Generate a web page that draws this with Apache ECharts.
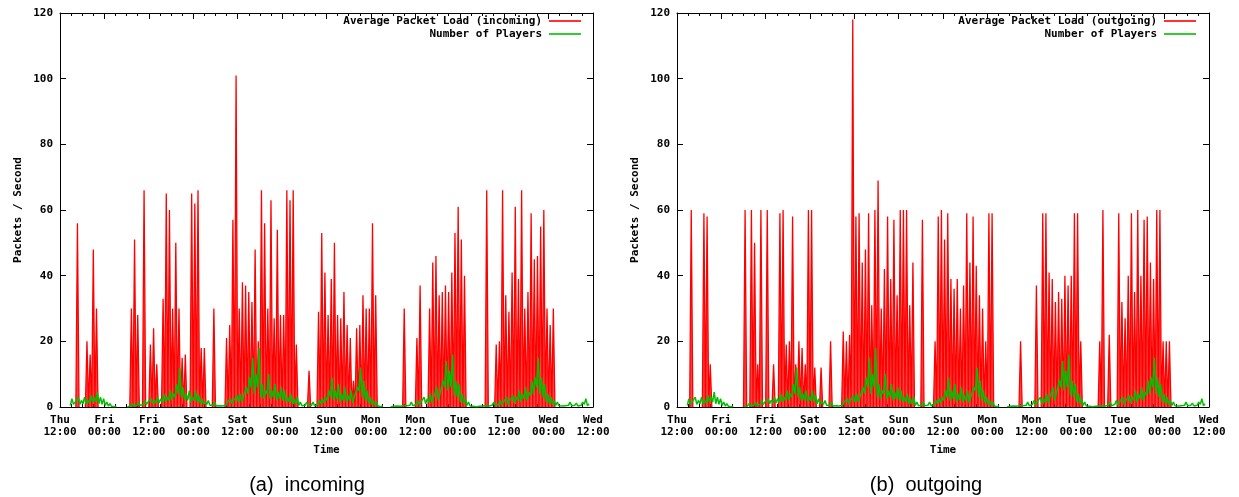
<!DOCTYPE html>
<html>
<head>
<meta charset="utf-8">
<script src="https://cdn.jsdelivr.net/npm/echarts@6/dist/echarts.min.js"></script>
<style>html,body{margin:0;padding:0;background:#fff;}#c{width:1239px;height:497px;}</style>
</head>
<body>
<div id="c"></div>
<script>
// x axis in hours since Thu 12:00 (6 days = 144 h)
const xTickLabels = ['Thu\n12:00','Fri\n00:00','Fri\n12:00','Sat\n00:00','Sat\n12:00','Sun\n00:00','Sun\n12:00','Mon\n00:00','Mon\n12:00','Tue\n00:00','Tue\n12:00','Wed\n00:00','Wed\n12:00'];
const yTicks = [0,20,40,60,80,100,120];
const sampleHours = 144 / 168; // one sample every ~51 minutes, 168 samples

// peak packet load per sample, incoming
const loadIncoming = [
  0,0,0,0,0,56,0,0,20,16,48,30,
  0,0,0,0,0,0,0,0,0,0,30,51,
  28,0,66,0,19,24,13,0,33,65,60,30,
  50,30,15,16,0,65,62,66,18,18,0,0,
  30,0,0,0,21,25,57,101,30,38,37,35,
  32,48,20,66,56,30,63,27,54,28,28,66,
  63,66,19,0,0,0,11,0,0,29,53,41,
  28,39,50,28,27,35,25,21,8,24,25,34,
  30,30,56,34,0,0,0,0,0,0,0,0,
  30,0,0,0,21,37,0,0,30,44,46,34,
  35,37,35,41,53,61,51,40,0,0,0,0,
  0,0,66,0,0,19,20,66,34,29,41,61,
  39,66,30,35,59,45,46,55,60,30,25,30,
  0,0,0,0,0,0,0,0,0,0,0,0
];
// peak packet load per sample, outgoing
const loadOutgoing = [
  0,0,0,0,60,0,0,0,59,58,13,0,
  0,0,0,0,0,0,0,0,0,60,0,60,
  50,13,60,0,60,0,13,0,59,60,19,20,
  58,13,20,18,13,60,60,12,0,12,0,0,
  20,0,0,0,23,20,22,118,58,59,44,48,
  59,31,60,69,30,42,58,39,57,34,60,60,
  60,31,44,0,0,57,0,0,0,20,58,60,
  51,59,39,36,39,30,37,59,44,58,43,34,
  30,20,59,59,0,0,0,0,0,0,0,0,
  20,0,0,0,0,37,0,59,59,41,39,32,
  35,33,40,37,40,59,59,20,0,0,0,0,
  0,20,60,0,22,0,0,59,32,27,40,59,
  35,60,40,57,58,44,39,60,60,20,20,20,
  0,0,0,0,0,0,0,0,0,0,0,0
];
// number of players per sample: upper and lower edge of the noisy band
const playersHigh = [
  null,null,null,2.5,1.5,3,2,3,2,3.5,3,4.5,
  3,2.5,1.5,1,0.5,0.3,null,null,null,0.5,1,0.5,
  1.5,1,2,1.5,2.5,2,3,2.5,4,3,5,4,
  7,12,6,4,5,3,5,3.5,2.5,1.5,2,1,
  1.5,0.8,1,0.8,1.5,2.5,2,3.5,4,3,6,9,
  15,10,18,7,5,10,5,7,4.5,6,5,3,
  4,2.5,3,1.5,1,1.5,1,1.5,1,2,2.5,3,
  5,9,5,7,4,6,3.5,5,3,6,12,8,
  5,3,2,1.5,0.8,0.4,null,null,0.3,0.5,0.8,0.5,
  1,1,1.5,1,2,1.5,3,2.5,4,3,6,4,
  8,14,11,16,8,7,4,2.5,1.5,0.8,0.5,0.3,
  0.5,0.8,1,0.8,1.5,1,2,1.5,3,2,3.5,3,
  5,4,6,4.5,8,9,15,9,7,4,3,2,
  1.5,1,0.8,1,1.5,1,1.2,0.8,1.5,2.5,1,null
];
const playersLow = [
  null,null,null,0.5,0.8,1,0.8,1,1,1.2,1.5,1.5,
  1,0.8,0.5,0.3,0.2,0.1,null,null,null,0.1,0.3,0.3,
  0.5,0.5,0.8,0.8,1,1,1.2,1.2,1.5,1.5,2,2,
  3,4,3,2,2,1.5,2,1.5,1,0.8,0.8,0.5,
  0.5,0.3,0.4,0.3,0.5,1,1,1.5,1.5,1.5,2.5,4,
  6,4,6,3,2.5,4,2.5,3,2,2.5,2,1.5,
  1.5,1,1,0.5,0.4,0.5,0.4,0.5,0.4,0.8,1,1.2,
  2,3,2,2.5,1.5,2,1.5,2,1.2,2.5,5,3,
  2,1.2,0.8,0.5,0.3,0.1,null,null,0.1,0.2,0.3,0.2,
  0.4,0.4,0.5,0.4,0.8,0.6,1,1,1.5,1.2,2.5,2,
  4,6,5,6,3.5,3,1.5,1,0.5,0.3,0.2,0.1,
  0.2,0.3,0.4,0.3,0.6,0.4,0.8,0.6,1.2,0.8,1.5,1.2,
  2,1.5,2.5,2,3.5,4,6,4,3,1.5,1,0.8,
  0.5,0.4,0.3,0.4,0.5,0.4,0.5,0.3,0.5,0.8,0.4,null
];
const seriesNames = ['Average Packet Load (incoming)','Average Packet Load (outgoing)','Number of Players'];
const captions = ['(a)  incoming','(b)  outgoing'];
const RED = '#ff0000', GREEN = '#00c000';

// each sample is drawn as a spike from 0 up to its peak and back
function spikes(arr){
  const out=[], w=sampleHours;
  arr.forEach((v,i)=>{
    const t=i*w;
    if(v>0){ out.push([t,0],[t+w*0.5,v],[t+w,0]); }
    else out.push([t+w*0.5,null]);
  });
  return out;
}
// noisy band: alternate between lower and upper edge
function band(lo,hi){
  const out=[], w=sampleHours;
  hi.forEach((v,i)=>{
    const t=i*w;
    if(v==null){ out.push([t+w*0.5,null]); return; }
    out.push([t+w*0.25,lo[i]],[t+w*0.75,v]);
  });
  return out;
}

const mono = {fontFamily:'DejaVu Sans Mono', fontWeight:'bold', fontSize:11, color:'#000'};
const monoFont = 'bold 11px "DejaVu Sans Mono"';
const grids = [
  {left:60, right:646, top:13, bottom:90},
  {left:677, right:30, top:13, bottom:90}
];
const legendRight = [581, 1196]; // right end of key samples
const xAxes=[], yAxes=[], series=[], graphics=[];
grids.forEach((g,i)=>{
  const tick = {show:true, inside:true, length:6, lineStyle:{color:'#000',width:1}};
  const minor = {show:true, splitNumber:4, length:3, lineStyle:{color:'#000',width:1}};
  xAxes.push({gridIndex:i, type:'value', min:0, max:144, interval:12, position:'bottom',
    axisLine:{show:true,onZero:false,lineStyle:{color:'#000',width:1}}, axisTick:tick, minorTick:minor,
    splitLine:{show:false},
    axisLabel:Object.assign({margin:7, lineHeight:12, showMinLabel:true, showMaxLabel:true,
      formatter:v=>xTickLabels[Math.round(v/12)]}, mono),
    name:'Time', nameLocation:'middle', nameGap:38, nameTextStyle:mono});
  xAxes.push({gridIndex:i, type:'value', min:0, max:144, interval:12, position:'top',
    axisLine:{show:true,onZero:false,lineStyle:{color:'#000',width:1}}, axisTick:tick, minorTick:minor,
    splitLine:{show:false}, axisLabel:{show:false}});
  yAxes.push({gridIndex:i, type:'value', min:yTicks[0], max:yTicks[yTicks.length-1], interval:20, position:'left',
    axisLine:{show:true,onZero:false,lineStyle:{color:'#000',width:1}}, axisTick:tick,
    splitLine:{show:false}, axisLabel:Object.assign({margin:7}, mono),
    name:'Packets / Second', nameLocation:'middle', nameGap:36, nameTextStyle:mono});
  yAxes.push({gridIndex:i, type:'value', min:yTicks[0], max:yTicks[yTicks.length-1], interval:20, position:'right',
    axisLine:{show:true,onZero:false,lineStyle:{color:'#000',width:1}}, axisTick:tick,
    splitLine:{show:false}, axisLabel:{show:false}});
  series.push({name:seriesNames[i], type:'line', xAxisIndex:i*2, yAxisIndex:i*2, color:RED,
    data:spikes(i===0?loadIncoming:loadOutgoing), symbol:'none', showSymbol:false, connectNulls:false,
    lineStyle:{color:RED, width:1.3}, itemStyle:{color:RED}, areaStyle:{color:RED, opacity:0.75, origin:'start'},
    z:2, silent:true});
  series.push({name:seriesNames[2], type:'line', xAxisIndex:i*2, yAxisIndex:i*2, color:GREEN,
    data:band(playersLow, playersHigh), symbol:'none', showSymbol:false, connectNulls:false,
    lineStyle:{color:GREEN, width:1.5}, itemStyle:{color:GREEN}, z:3, silent:true});
  // key (gnuplot style): right-aligned text followed by a line sample
  const keyItems = [[seriesNames[i], RED], [seriesNames[2], GREEN]];
  keyItems.forEach((k,j)=>{
    const y = 21 + j*13;
    const xr = legendRight[i];
    graphics.push({type:'text', x:xr-39, y:y, z:10,
      style:{text:k[0], textAlign:'right', textVerticalAlign:'middle', font:monoFont, fill:'#000'}});
    graphics.push({type:'line', z:10, shape:{x1:xr-32, y1:y, x2:xr, y2:y},
      style:{stroke:k[1], lineWidth:2, opacity:0.8}});
  });
});
graphics.push({type:'text', x:307, y:485, style:{text:captions[0], textAlign:'center', textVerticalAlign:'middle', font:'20px "Liberation Sans"', fill:'#000'}});
graphics.push({type:'text', x:926, y:485, style:{text:captions[1], textAlign:'center', textVerticalAlign:'middle', font:'20px "Liberation Sans"', fill:'#000'}});

const chart = echarts.init(document.getElementById('c'), null, {renderer:'canvas'});
chart.setOption({
  animation:false,
  backgroundColor:'#fff',
  grid:grids, xAxis:xAxes, yAxis:yAxes, series:series, graphic:graphics
});
</script>
</body>
</html>
